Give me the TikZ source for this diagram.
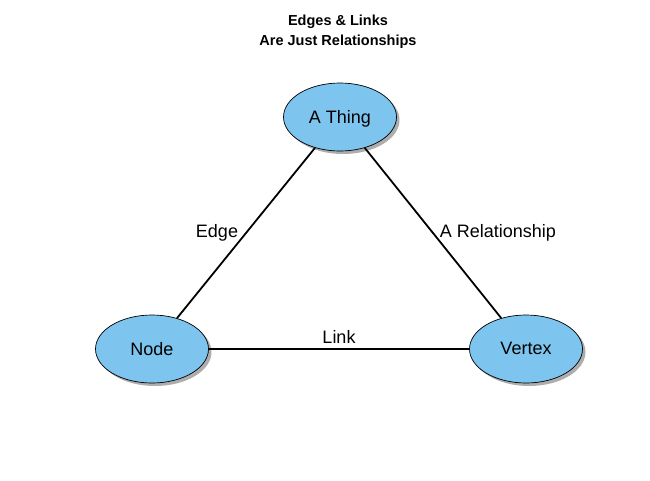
\documentclass[tikz,border=0pt]{standalone}
\usepackage{fontspec}
\setmainfont{Liberation Sans}
\usepackage{tikz}
\usetikzlibrary{shapes.geometric,shadows}
\definecolor{thingblue}{RGB}{125,197,238}

\begin{document}
\begin{tikzpicture}[x=1pt,y=-1pt]
  \tikzset{thingnode/.style={ellipse,draw=black,line width=0.7pt,fill=thingblue,minimum width=113pt,minimum height=68pt,inner sep=0pt,text depth=1pt,font=\fontsize{18}{20}\selectfont,drop shadow={shadow xshift=3pt,shadow yshift=-3pt,fill=black!40,opacity=0.8}}}
  \tikzset{thingedge/.style={draw=black,line width=1.8pt}}
  \tikzset{edgelabel/.style={font=\fontsize{18}{20}\selectfont,inner sep=1pt,text=black}}
  \useasboundingbox (0,0) rectangle (650,480);
  \node[font=\bfseries\fontsize{14.5}{20}\selectfont,align=center] (title) at (338,32) {Edges \& Links\\Are Just Relationships};
  \node[thingnode] (thing) at (340,117) {A Thing};
  \node[thingnode] (node) at (152,349) {Node};
  \node[thingnode] (vertex) at (526,349) {Vertex};
  \draw[thingedge] (thing) -- (node);
  \node[edgelabel] (edge) at (217,233) {Edge};
  \draw[thingedge] (thing) -- (vertex);
  \node[edgelabel] (rel) at (498,233) {A Relationship};
  \draw[thingedge] (node) -- (vertex);
  \node[edgelabel] (link) at (339,337) {Link};
\end{tikzpicture}
\end{document}
